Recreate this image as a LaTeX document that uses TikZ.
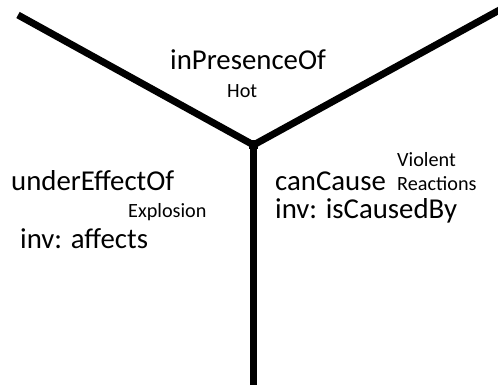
\documentclass[tikz,border=0pt]{standalone}
\usepackage{fontspec}
\setmainfont{Carlito}
\begin{document}
\begin{tikzpicture}[x=1pt,y=-1pt,
  branch/.style={line width=7pt,black},
  big/.style={anchor=base west,inner sep=0pt,font=\fontsize{28.8}{32}\selectfont},
  small/.style={anchor=base west,inner sep=0pt,font=\fontsize{20.2}{23}\selectfont}]
\useasboundingbox[fill=white] (0,0) rectangle (498,385);
\coordinate (J) at (253.5,145);
\coordinate (L) at (18,15);
\coordinate (R) at (505,7);
\coordinate (B) at (253.5,390);
\draw[branch] (L) -- (J);
\draw[branch] (J) -- (R);
\draw[branch] (J) -- (B);
\fill (J) +(-4.5,-4.5) rectangle +(4.5,4.5);
\node[big] (ip) at (170,70) {inPresenceOf};
\node[small] (hot) at (227,98) {Hot};
\node[big] (ue) at (11,190) {underEffectOf};
\node[small] (ex) at (128,217) {Explosion};
\node[big] (ia) at (20,248) {inv: affects};
\node[big] (cc) at (275,190) {canCause};
\node[small] (vi) at (397,166) {Violent};
\node[small] (re) at (397,190) {Reactions};
\node[big] (ic) at (275,218) {inv: isCausedBy};
\end{tikzpicture}
\end{document}
